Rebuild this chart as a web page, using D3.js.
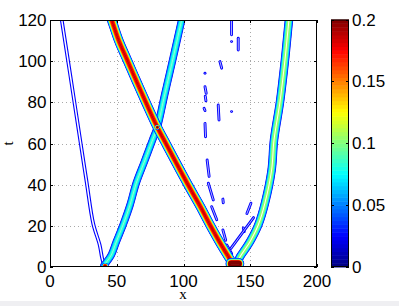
<!DOCTYPE html>
<html><head><meta charset="utf-8">
<script src="https://cdn.jsdelivr.net/npm/d3@7"></script>
<style>body{margin:0;background:#fff}svg{display:block}</style>
</head><body>
<script>
// ---------------- data ----------------
const xTicks = [0, 50, 100, 150, 200];
const tTicks = [0, 20, 40, 60, 80, 100, 120];
const cTicks = [0, 0.05, 0.1, 0.15, 0.2];
const cTickLabels = ["0", "0.05", "0.1", "0.15", "0.2"];

// soliton tracks (x, t) and ridge amplitude
const trackNames = ["A", "B", "C", "D"];
const trackAmp = [0.033, 0.088, 0.186, 0.112];
const trackAX = [8.8, 15, 23, 27.5, 32.4, 37.2, 39, 40.5];
const trackAT = [120, 94, 60, 41, 21, 10.7, 4.4, 0.8];
const trackBX = [40.5, 43, 45.9, 49.7, 54.7, 59.9, 64.6, 70.6, 76.8, 80.4, 86, 91.9, 98.6, 100];
const trackBT = [0.8, 3, 5.8, 12.3, 20.4, 30, 40.8, 51, 61.7, 67.9, 84, 100.6, 120, 124];
const trackCX = [45, 46.2, 51.5, 57.8, 64.6, 71.6, 80.4, 87.4, 97.4, 104.9, 112.5, 119.9, 128.5, 137.5];
const trackCT = [122, 120, 110, 100.6, 90.5, 80.3, 67.9, 59.3, 47.1, 38.2, 29.5, 20.4, 10.5, 1];
const trackDX = [139.5, 142.3, 146, 149.8, 156, 161, 166, 167.8, 172.3, 176, 179, 180];
const trackDT = [0.8, 4.9, 8.5, 12.3, 20.4, 31, 47.1, 61.7, 80.3, 100.6, 120, 125];

// local maxima (short segments) and their amplitude
const peakX1 = [41.0, 80.4, 135.8];
const peakX2 = [41.6, 80.4, 141.2];
const peakT = [0.6, 67.9, 1.6];
const peakAmp = [0.2, 0.21, 0.3];

// weak radiation fragments (x1,t1)-(x2,t2)
const noiseX1 = [136, 136, 141, 127.3, 116.1, 116.1, 116.3, 115.4, 126, 136, 116.1, 117.7, 118.6, 129.5, 121.1, 129.5, 132.4, 144.8, 135.5, 147.5];
const noiseT1 = [121, 109.5, 111.1, 99.8, 94.1, 87.6, 83, 77.1, 78.7, 75.5, 69.8, 52, 40.7, 33, 29.3, 18, 10.7, 19, 9, 26];
const noiseX2 = [136, 136, 141, 128.6, 116.1, 117, 116.8, 116.1, 126.6, 136, 116.5, 119.2, 122.3, 129.8, 124.9, 131.6, 136.1, 145.5, 152.5, 150.5];
const noiseT2 = [112.8, 109.5, 105.4, 96.6, 94.1, 84.4, 80.8, 76, 71.4, 75.5, 63.3, 44, 32.6, 31.2, 23, 13, 6.5, 17.2, 24, 31];
const noiseAmp = 0.03;

// ---------------- layout ----------------
const W = 399, H = 306;
const plot = {l: 50, r: 317, t: 20, b: 267};
const cbar = {l: 331, r: 349, t: 19.5, b: 267};
const fontSans = "'Liberation Sans', Arial, Helvetica, sans-serif";
const fontSerif = "'Liberation Serif', 'Times New Roman', serif";

const svg = d3.select("body").append("svg").attr("width", W).attr("height", H);
svg.append("rect").attr("x", 0).attr("y", 0).attr("width", W).attr("height", H).attr("fill", "#fff");
svg.append("rect").attr("x", 0).attr("y", 301).attr("width", W).attr("height", 5).attr("fill", "#efeff2");

const x = d3.scaleLinear().domain([0, 200]).range([plot.l, plot.r]);
const y = d3.scaleLinear().domain([0, 120]).range([plot.b, plot.t]);
const cNorm = d3.scaleLinear().domain([0, 0.2]).range([0, 1]).clamp(true);
const cy = d3.scaleLinear().domain([0, 0.2]).range([cbar.b, cbar.t]);

function jet(v) {
  const t = cNorm(v);
  const f = u => Math.max(0, Math.min(1, u));
  return d3.rgb(255 * f(1.5 - Math.abs(4 * t - 3)), 255 * f(1.5 - Math.abs(4 * t - 2)), 255 * f(1.5 - Math.abs(4 * t - 1))).formatHex();
}

// grid
const grid = svg.append("g").attr("stroke", "#a8a8a8").attr("stroke-width", 1).attr("stroke-dasharray", "1,3");
xTicks.slice(1, -1).forEach(v => grid.append("line").attr("x1", Math.round(x(v)) + 0.5).attr("x2", Math.round(x(v)) + 0.5).attr("y1", plot.t).attr("y2", plot.b));
tTicks.slice(1, -1).forEach(v => grid.append("line").attr("y1", Math.round(y(v)) + 0.5).attr("y2", Math.round(y(v)) + 0.5).attr("x1", plot.l).attr("x2", plot.r));

// clip
const defs = svg.append("defs");
defs.append("clipPath").attr("id", "clip").append("rect")
  .attr("x", plot.l).attr("y", plot.t).attr("width", plot.r - plot.l).attr("height", plot.b - plot.t);
defs.append("filter").attr("id", "soft").attr("x", "-5%").attr("y", "-5%").attr("width", "110%").attr("height", "110%")
  .append("feGaussianBlur").attr("stdDeviation", 0.35);

const dataG = svg.append("g").attr("clip-path", "url(#clip)").append("g").attr("filter", "url(#soft)");

const levels = d3.range(0.025, 0.32, 0.01);
const lineGen = d3.line().x(d => x(d[0])).y(d => y(d[1])).curve(d3.curveCatmullRom.alpha(0.5));

function ridge(pts, amp, halfW, ringW, p) {
  const lv = levels.filter(L => L < amp);
  if (!lv.length) return;
  const denom = Math.log(amp / lv[0]);
  const d = lineGen(pts);
  const g = dataG.append("g").attr("fill", "none").attr("stroke-linecap", "round").attr("stroke-linejoin", "round");
  lv.forEach(L => {
    const w = denom > 0 ? halfW * Math.pow(Math.log(amp / L) / denom, p) : halfW;
    g.append("path").attr("d", d).attr("stroke", jet(L)).attr("stroke-width", 2 * w + ringW);
    if (2 * w - ringW > 0.2) g.append("path").attr("d", d).attr("stroke", "#fff").attr("stroke-width", 2 * w - ringW);
  });
}

const trackX = [trackAX, trackBX, trackCX, trackDX];
const trackT = [trackAT, trackBT, trackCT, trackDT];
const trackHalfW = [1.3, 3.2, 4.2, 3.7];

// noise first (beneath)
noiseX1.forEach((v, i) => ridge([[v, noiseT1[i]], [noiseX2[i], noiseT2[i]]], noiseAmp, 0.9, 1.1, 0.5));
trackNames.forEach((n, i) => {
  const pts = trackX[i].map((v, j) => [v, trackT[i][j]]);
  ridge(pts, trackAmp[i], trackHalfW[i], 1.1, 0.4);
});
const peakHalfW = [2.2, 2.0, 5.2];
peakX1.forEach((v, i) => ridge([[v, peakT[i]], [peakX2[i], peakT[i]]], peakAmp[i], peakHalfW[i], 1.1, 0.45));

// axes box
const ax = svg.append("g").attr("stroke", "#000").attr("stroke-width", 1).attr("fill", "none");
ax.append("rect").attr("x", plot.l + 0.5).attr("y", plot.t + 0.5).attr("width", plot.r - plot.l - 1).attr("height", plot.b - plot.t - 1);
const tl = 3;
xTicks.forEach(v => {
  const px = Math.round(x(v)) + 0.5;
  ax.append("line").attr("x1", px).attr("x2", px).attr("y1", plot.b).attr("y2", plot.b - tl);
  ax.append("line").attr("x1", px).attr("x2", px).attr("y1", plot.t).attr("y2", plot.t + tl);
});
tTicks.forEach(v => {
  const py = Math.round(y(v)) + 0.5;
  ax.append("line").attr("x1", plot.l).attr("x2", plot.l + tl).attr("y1", py).attr("y2", py);
  ax.append("line").attr("x1", plot.r).attr("x2", plot.r - tl).attr("y1", py).attr("y2", py);
});

// tick labels
const tx = svg.append("g").attr("font-family", fontSans).attr("font-size", 17).attr("fill", "#000");
xTicks.forEach(v => tx.append("text").attr("x", x(v)).attr("y", 286.5).attr("text-anchor", "middle").text(v));
tTicks.forEach(v => tx.append("text").attr("x", 46.5).attr("y", y(v)).attr("dy", "0.36em").attr("text-anchor", "end").text(v));

// axis labels
svg.append("text").attr("x", 183).attr("y", 298.5).attr("text-anchor", "middle").attr("font-family", fontSerif).attr("font-size", 15).text("x");
svg.append("text").attr("transform", "translate(13,143.5) rotate(-90)").attr("text-anchor", "middle").attr("font-family", fontSerif).attr("font-size", 15).text("t");

// colorbar
const nC = 64;
const cb = svg.append("g");
d3.range(nC).forEach(i => {
  const v0 = 0.2 * i / nC, v1 = 0.2 * (i + 1) / nC;
  cb.append("rect").attr("x", cbar.l).attr("width", cbar.r - cbar.l)
    .attr("y", cy(v1)).attr("height", cy(v0) - cy(v1) + 0.5)
    .attr("fill", jet((v0 + v1) / 2));
});
cb.append("rect").attr("x", cbar.l + 0.5).attr("y", cbar.t + 0.5).attr("width", cbar.r - cbar.l - 1).attr("height", cbar.b - cbar.t - 1)
  .attr("fill", "none").attr("stroke", "#000");
cTicks.forEach(v => {
  const py = Math.round(cy(v)) + 0.5;
  cb.append("line").attr("x1", cbar.l).attr("x2", cbar.l + 3).attr("y1", py).attr("y2", py).attr("stroke", "#000");
  cb.append("line").attr("x1", cbar.r).attr("x2", cbar.r - 3).attr("y1", py).attr("y2", py).attr("stroke", "#000");
});
cTicks.forEach((v, i) => svg.append("text").attr("x", 352).attr("y", cy(v)).attr("dy", "0.36em")
  .attr("font-family", fontSans).attr("font-size", 17).text(cTickLabels[i]));
</script>
</body></html>
